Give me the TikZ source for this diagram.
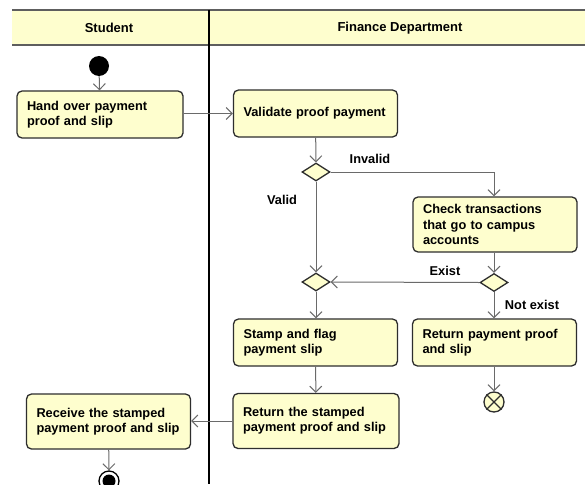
\documentclass[tikz,border=0pt]{standalone}
\usepackage{fontspec}
\setmainfont{Liberation Sans}
\usetikzlibrary{arrows.meta,shapes.geometric}
\definecolor{boxfill}{HTML}{FEFECE}
\definecolor{boxline}{HTML}{2E2E2E}
\definecolor{edgecol}{HTML}{6A6A6A}
\definecolor{headline}{HTML}{5E5E5E}
\tikzset{
  lbl/.style={font=\bfseries\fontsize{12.8}{15}\selectfont},
  act/.style={draw=boxline, fill=boxfill, rounded corners=5pt, line width=1.3pt,
    align=left, inner xsep=10pt, inner ysep=3pt, font=\bfseries\fontsize{12.8}{15.3}\selectfont,
    text width=144pt},
  dec/.style={diamond, draw=boxline, fill=boxfill, line width=1.3pt, minimum width=28pt,
    minimum height=18pt, inner sep=0pt},
  flow/.style={draw=edgecol, line width=1pt, -{Straight Barb[length=6pt,width=12pt,line width=1pt]}},
}
\begin{document}
\begin{tikzpicture}[x=1pt,y=-1pt]
\useasboundingbox (0,0) rectangle (585,484);
\clip (0,0) rectangle (585,484);
\fill[white] (0,0) rectangle (585,484);
% header
\fill[boxfill] (12,10) rectangle (585,45);
\draw[headline, line width=1.8pt] (12,10) -- (585,10);
\draw[headline, line width=1.8pt] (12,45) -- (585,45);
\draw[black, line width=1.2pt] (209,10) -- (209,484);
\node[lbl, font=\bfseries\fontsize{13}{15}\selectfont] (hstudent) at (109,28) {Student};
\node[lbl, font=\bfseries\fontsize{13}{15}\selectfont] (hfinance) at (400,28) {Finance Department};
% nodes
\node[circle, fill=black, minimum size=20pt, inner sep=0pt] (start) at (99,66) {};
\node[act, minimum height=47pt, text width=146pt] (hand) at (100,114.5) {Hand over payment\\proof and slip};
\node[act, minimum height=47pt] (validate) at (315.5,113.5) {Validate proof payment};
\node[dec] (d1) at (316,172) {};
\node[act, minimum height=55pt] (check) at (495,224.5) {Check transactions\\that go to campus\\accounts};
\node[dec] (d2) at (316,282) {};
\node[dec] (d3) at (494,282.5) {};
\node[act, minimum height=47pt] (stamp) at (315.5,342.5) {Stamp and flag\\payment slip};
\node[act, minimum height=47pt] (retpay) at (494.5,342.5) {Return payment proof\\and slip};
\node[circle, draw=boxline, fill=boxfill, line width=1.3pt, minimum size=20pt, inner sep=0pt] (fin) at (494,402) {};
\draw[boxline, line width=1.3pt] (fin.45) -- (fin.225) (fin.135) -- (fin.315);
\node[act, minimum height=55pt, text width=146pt] (retstamp) at (316,421) {Return the stamped\\payment proof and slip};
\node[act, minimum height=55pt] (receive) at (108.5,421.5) {Receive the stamped\\payment proof and slip};
\node[circle, draw=black, fill=white, line width=1.3pt, minimum size=20pt, inner sep=0pt] (endn) at (109,481) {};
\node[circle, fill=black, minimum size=13pt, inner sep=0pt] (endin) at (endn.center) {};
% labels
\node[lbl] (linvalid) at (370,159) {Invalid};
\node[lbl] (lvalid) at (282,200) {Valid};
\node[lbl] (lexist) at (445,271) {Exist};
\node[lbl] (lnot) at (532,305) {Not exist};
% edges
\draw[flow] (start) -- (hand);
\draw[flow] (hand.east |- validate.west) -- (validate.west);
\draw[flow] (validate) -- (d1);
\draw[flow] (d1.east) -| (check.north -| d3.north);
\draw[flow] (d1) -- (d2);
\draw[flow] (check.south -| d3.north) -- (d3.north);
\draw[flow] (d3.west) -- (d2.east);
\draw[flow] (d3.south) -- (d3.south |- retpay.north);
\draw[flow] (d2) -- (d2.south |- stamp.north);
\draw[flow] (retpay.south -| fin.north) -- (fin.north);
\draw[flow] (stamp) -- (retstamp);
\draw[flow] (retstamp.west) -- (retstamp.west -| receive.east);
\draw[flow] (receive) -- (endn);
\end{tikzpicture}
\end{document}
